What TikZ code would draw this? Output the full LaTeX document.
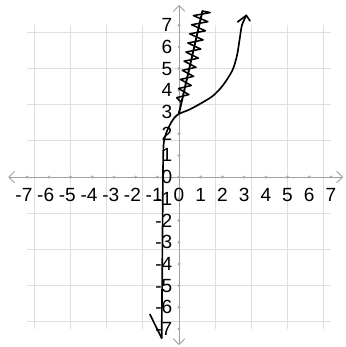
\documentclass[tikz,border=0pt]{standalone}
\usepackage{fontspec}
\setmainfont{Liberation Sans}
\usetikzlibrary{arrows.meta}

\begin{document}
\begin{tikzpicture}[x=0.6cm,y=0.6cm,
  g/.style={gray!25,line width=0.7pt},
  ax/.style={{Straight Barb[length=1.6mm]}-{Straight Barb[length=1.6mm]},gray!75,line width=0.7pt},
  tk/.style={circle,fill=gray!65,inner sep=0pt,minimum size=2.6pt},
  xl/.style={anchor=north,inner sep=0pt,font=\fontsize{15}{15}\selectfont},
  yl/.style={anchor=east,inner sep=0pt,font=\fontsize{15}{15}\selectfont},
  pen/.style={line width=1.3pt,line cap=round,line join=round}]
  \useasboundingbox (-8.25,-7.83) rectangle (7.65,8.16);
  \draw[g] (-7,-7) grid (7,7);
  \coordinate (xa) at (-7.87,0); \coordinate (xb) at (7.56,0);
  \coordinate (ya) at (0,-7.74); \coordinate (yb) at (0,7.93);
  \draw[ax] (xa) -- (xb); \draw[ax] (ya) -- (yb);
  \foreach \i in {-7,...,7} {\node[tk] (tx\i) at (\i,0) {}; \node[tk] (ty\i) at (0,\i) {};}
  \foreach \i in {1,...,7} {
    \node[xl] (xp\i) at (\i,-0.5) {\i};
    \node[xl] (xn\i) at (-\i,-0.5) {\llap{-}\i};
    \node[yl] (yp\i) at (-0.3,\i) {\i};
    \node[yl] (yn\i) at (-0.3,-\i) {-\i};
  }
  \node[xl] (x0) at (0,-0.5) {0};
  \node[yl] (y0) at (-0.3,0) {0};
  % hand drawn graph
  \coordinate (lo) at (-0.8,-7.42); \coordinate (hi) at (3.1,7.45);
  \draw[pen] plot[smooth,tension=0.5] coordinates {(lo) (-0.78,-5) (-0.76,-2.5) (-0.74,0) (-0.7,1.6)
    (-0.45,2.35) (-0.1,2.85) (0.5,3.12) (1.1,3.45) (1.57,3.75) (2.0,4.2) (2.45,4.9) (2.67,5.6)
    (2.8,6.4) (2.9,7.0) (hi)};
  \draw[pen] (-1.34,-6.33) -- (lo);
  \draw[pen] (2.7,7.15) -- (hi) -- (3.27,7.2);
  % scribbled branch
  \coordinate (sa) at (0.0,2.95); \coordinate (sb) at (1.08,7.65);
  \draw[pen,line width=1.5pt] (sa) -- (sb);
  \draw[pen,line width=1.2pt] (0.1,3.45) \foreach \k in {0,...,9} {
    -- ({0.232*(0.75+0.42*\k)-0.28-0.012*\k},{3.66+0.42*\k})
    -- ({0.232*(0.75+0.42*\k)+0.28+0.012*\k},{3.8+0.42*\k}) } -- (sb);
\end{tikzpicture}
\end{document}
